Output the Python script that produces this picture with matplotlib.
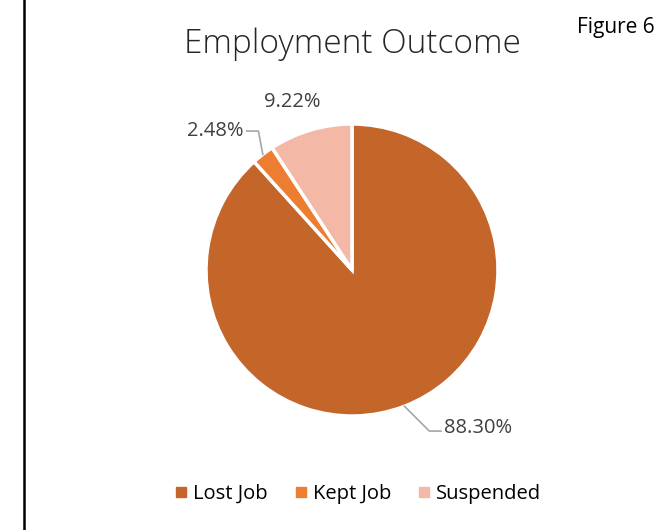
import numpy as np
import matplotlib
matplotlib.use("Agg")
import matplotlib.pyplot as plt
from matplotlib.lines import Line2D

categories = ["Lost Job", "Kept Job", "Suspended"]
shares = [88.30, 2.48, 9.22]
labels = ["88.30%", "2.48%", "9.22%"]
colors = ["#C4652A", "#ED7D31", "#F4B8A6"]

W, H = 665, 530
plt.rcParams["font.family"] = ["Open Sans", "DejaVu Sans"]
fig = plt.figure(figsize=(W / 100, H / 100), dpi=100)

# Pie axes: centre (352, 270) px, radius 146 px
cx, cy, R = 352, 270, 146
ax = fig.add_axes([(cx - R) / W, (H - cy - R) / H, 2 * R / W, 2 * R / H])
wedges, _ = ax.pie(shares, colors=colors, startangle=90, counterclock=False,
                   radius=1.0, wedgeprops=dict(edgecolor="white", linewidth=2.5))
ax.set_xlim(-1, 1)
ax.set_ylim(-1, 1)
ax.set_aspect("equal")
ax.axis("off")

lab_col = "#404040"
line_col = "#A6A6A6"
fs = 14.5

def mid(w):
    a = np.deg2rad((w.theta1 + w.theta2) / 2)
    return np.cos(a), np.sin(a)

# Lost Job label with leader line
x0, y0 = mid(wedges[0])
p1 = (x0 + 0.17, y0 - 0.17)
ax.add_line(Line2D([x0, p1[0], p1[0] + 0.08], [y0, p1[1], p1[1]],
                   color=line_col, lw=1.2, clip_on=False))
ax.text(p1[0] + 0.1, p1[1] + 0.02, labels[0], ha="left", va="center",
        fontsize=fs, color=lab_col, clip_on=False)

# Kept Job label with leader line
x1, y1 = mid(wedges[1])
p2 = (x1 - 0.03, y1 + 0.16)
ax.add_line(Line2D([x1, p2[0], p2[0] - 0.08], [y1, p2[1], p2[1]],
                   color=line_col, lw=1.2, clip_on=False))
ax.text(p2[0] - 0.1, p2[1], labels[1], ha="right", va="center",
        fontsize=fs, color=lab_col, clip_on=False)

# Suspended label, no leader line
x2, y2 = mid(wedges[2])
ax.text(x2 * 1.22 - 0.06, y2 * 1.22 - 0.02, labels[2], ha="center", va="center",
        fontsize=fs, color=lab_col, clip_on=False)

fig.text(352 / W, 1 - 44 / H, "Employment Outcome", ha="center", va="center",
         fontsize=24, color="#262626", fontweight="light")
fig.text(616 / W, 1 - 27 / H, "Figure 6", ha="center", va="center",
         fontsize=15, color="#000000")

# left border rule
fig.add_artist(Line2D([23.5 / W, 23.5 / W], [0, 1], color="black", lw=1.8,
                      transform=fig.transFigure))

handles = [plt.Line2D([], [], marker="s", linestyle="", markersize=7,
                      markerfacecolor=c, markeredgecolor=c) for c in colors]
fig.legend(handles, categories, loc="center", bbox_to_anchor=(357 / W, 1 - 494 / H),
           ncol=3, frameon=False, fontsize=14.5, handletextpad=0.2,
           columnspacing=1.25, handlelength=0.8, labelcolor="#000000")

fig.savefig("out.png", dpi=100, facecolor="white")
